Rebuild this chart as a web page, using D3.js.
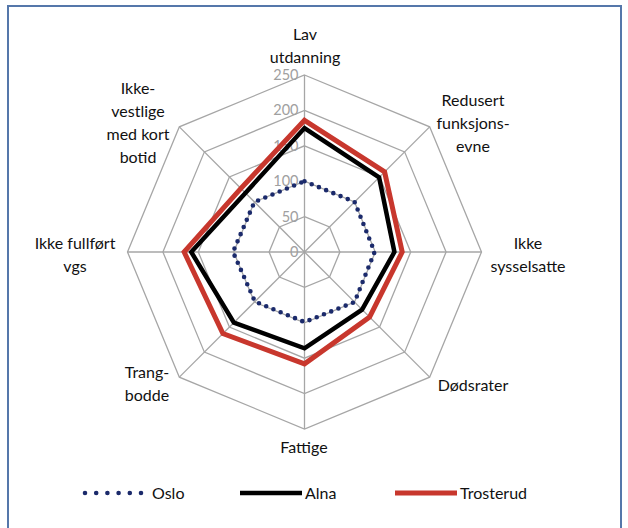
<!DOCTYPE html>
<html>
<head>
<meta charset="utf-8">
<script src="https://cdn.jsdelivr.net/npm/d3@7"></script>
<style>
  body { margin: 0; background: #fff; }
  text { font-family: Lato, "Open Sans", sans-serif; }
</style>
</head>
<body>
<svg width="628" height="528"></svg>
<script>
// axes, clockwise from the top
var axes = [
  ["Lav", "utdanning"],
  ["Redusert", "funksjons-", "evne"],
  ["Ikke", "sysselsatte"],
  ["Dødsrater"],
  ["Fattige"],
  ["Trang-", "bodde"],
  ["Ikke fullført", "vgs"],
  ["Ikke-", "vestlige", "med kort", "botid"]
]
var ticks = [0, 50, 100, 150, 200, 250]

var seriesNames = ["Oslo", "Alna", "Trosterud"]
var oslo = [100, 100, 99, 100, 99, 99, 101, 100]
var alna = [175, 149, 127, 115, 136, 141, 160, 118]
var trosterud = [186, 160, 138, 130, 158, 163, 170, 127]

var svg = d3.select("svg")
var cx = 304.5, cy = 252
var r = d3.scaleLinear().domain([0, 250]).range([0, 177])
var angle = d3.scaleLinear().domain([0, axes.length]).range([0, 2 * Math.PI])

function pt(i, v) {
  var a = angle(i)
  return [cx + r(v) * Math.sin(a), cy - r(v) * Math.cos(a)]
}

// frame
svg.append("rect")
  .attr("x", 8).attr("y", 6).attr("width", 613).attr("height", 530)
  .attr("fill", "none").attr("stroke", "#5577aa").attr("stroke-width", 2)

var grid = svg.append("g")
ticks.slice(1).forEach(function (t) {
  grid.append("polygon")
    .attr("points", axes.map(function (d, i) { return pt(i, t).join(",") }).join(" "))
    .attr("fill", "none").attr("stroke", "#a6a6a6").attr("stroke-width", 1.3)
})
axes.forEach(function (d, i) {
  var p = pt(i, 250)
  grid.append("line")
    .attr("x1", cx).attr("y1", cy).attr("x2", p[0]).attr("y2", p[1])
    .attr("stroke", "#a6a6a6").attr("stroke-width", 1.3)
})

// tick labels
svg.append("g").selectAll("text").data(ticks).enter().append("text")
  .attr("x", cx - 6)
  .attr("y", function (t) { return cy - r(t) + 5 })
  .attr("text-anchor", "end")
  .attr("font-size", 14.5)
  .attr("fill", "#a0a0a0")
  .text(function (t) { return t })

// axis labels
var labelPos = [
  [305, 34], [473, 100], [528, 243], [473, 385],
  [304, 447], [147, 372], [75, 243], [138, 88]
]
var lab = svg.append("g").selectAll("text").data(axes).enter().append("text")
  .attr("text-anchor", "middle")
  .attr("font-size", 16)
  .attr("fill", "#111")
  .attr("transform", function (d, i) { return "translate(" + labelPos[i][0] + "," + labelPos[i][1] + ")" })
lab.selectAll("tspan").data(function (d) { return d }).enter().append("tspan")
  .attr("x", 0)
  .attr("dy", function (d, j) { return j === 0 ? "0.35em" : 23 })
  .text(function (d) { return d })

var line = d3.lineRadial()
  .angle(function (d, i) { return angle(i) })
  .radius(function (d) { return r(d) })
  .curve(d3.curveLinearClosed)

var styles = [
  { color: "#1b2a6b", width: 4.6, dash: "0 7.8" },
  { color: "#000", width: 4.5, dash: null },
  { color: "#c8372d", width: 5, dash: null }
]
var data = [oslo, alna, trosterud]

var plot = svg.append("g").attr("transform", "translate(" + cx + "," + cy + ")")
data.forEach(function (vals, k) {
  plot.append("path")
    .attr("d", line(vals))
    .attr("fill", "none")
    .attr("stroke", styles[k].color)
    .attr("stroke-width", styles[k].width)
    .attr("stroke-linecap", "round")
    .attr("stroke-linejoin", "miter")
    .attr("stroke-dasharray", styles[k].dash)
})

// legend
var legX = [85, 240, 395]
var leg = svg.append("g").selectAll("g").data(seriesNames).enter().append("g")
  .attr("transform", function (d, i) { return "translate(" + legX[i] + ",493)" })
leg.append("line")
  .attr("x1", 0).attr("x2", function (d, i) { return i === 0 ? 56 : 62 })
  .attr("y1", 0).attr("y2", 0)
  .attr("stroke", function (d, i) { return styles[i].color })
  .attr("stroke-width", function (d, i) { return styles[i].width })
  .attr("stroke-linecap", function (d, i) { return i === 0 ? "round" : "butt" })
  .attr("stroke-dasharray", function (d, i) { return i === 0 ? "0 11.2" : null })
leg.append("text")
  .attr("x", function (d, i) { return i === 0 ? 67 : 65 })
  .attr("y", 0).attr("dy", "0.35em")
  .attr("font-size", 16)
  .attr("fill", "#111")
  .text(function (d) { return d })
</script>
</body>
</html>
